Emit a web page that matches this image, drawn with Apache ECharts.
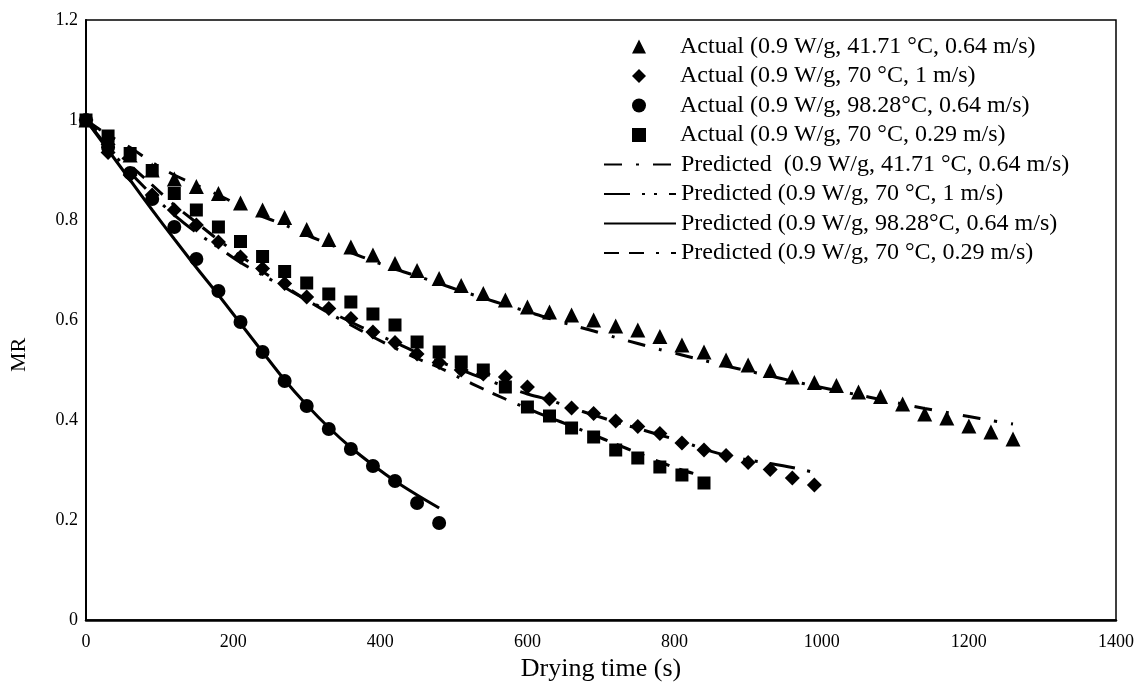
<!DOCTYPE html>
<html>
<head>
<meta charset="utf-8">
<script src="https://cdn.jsdelivr.net/npm/echarts@6/dist/echarts.min.js"></script>
<style>
  html, body { margin: 0; padding: 0; background: #ffffff; }
  #chart { width: 1148px; height: 690px; }
</style>
</head>
<body>
<div id="chart"></div>
<script>
// Drying times (s) for each run
const timeT41 = [0, 30, 60, 90, 120, 150, 180, 210, 240, 270, 300, 330, 360, 390, 420, 450, 480, 510, 540, 570, 600, 630, 660, 690, 720, 750, 780, 810, 840, 870, 900, 930, 960, 990, 1020, 1050, 1080, 1110, 1140, 1170, 1200, 1230, 1260];
const timeT70v1 = [0, 30, 60, 90, 120, 150, 180, 210, 240, 270, 300, 330, 360, 390, 420, 450, 480, 510, 540, 570, 600, 630, 660, 690, 720, 750, 780, 810, 840, 870, 900, 930, 960, 990];
const timeT98 = [0, 30, 60, 90, 120, 150, 180, 210, 240, 270, 300, 330, 360, 390, 420, 450, 480];
const timeT70v029 = [0, 30, 60, 90, 120, 150, 180, 210, 240, 270, 300, 330, 360, 390, 420, 450, 480, 510, 540, 570, 600, 630, 660, 690, 720, 750, 780, 810, 840];

// Measured moisture ratio
const actualT41 = [1.0, 0.965, 0.93, 0.90, 0.882, 0.867, 0.853, 0.834, 0.82, 0.805, 0.781, 0.761, 0.746, 0.73, 0.713, 0.699, 0.683, 0.669, 0.653, 0.64, 0.626, 0.616, 0.61, 0.60, 0.588, 0.58, 0.567, 0.55, 0.536, 0.52, 0.51, 0.499, 0.486, 0.475, 0.469, 0.456, 0.447, 0.432, 0.412, 0.404, 0.388, 0.376, 0.362];
const actualT70v1 = [1.0, 0.935, 0.89, 0.85, 0.82, 0.79, 0.756, 0.726, 0.703, 0.673, 0.646, 0.623, 0.603, 0.576, 0.555, 0.532, 0.515, 0.50, 0.492, 0.486, 0.466, 0.442, 0.424, 0.413, 0.398, 0.387, 0.373, 0.354, 0.34, 0.329, 0.315, 0.301, 0.284, 0.27];
const actualT98 = [1.0, 0.945, 0.894, 0.842, 0.786, 0.722, 0.658, 0.596, 0.536, 0.478, 0.428, 0.382, 0.342, 0.308, 0.278, 0.234, 0.194];
const actualT70v029 = [1.0, 0.968, 0.933, 0.899, 0.853, 0.82, 0.786, 0.757, 0.727, 0.697, 0.674, 0.652, 0.636, 0.612, 0.59, 0.556, 0.536, 0.516, 0.50, 0.466, 0.426, 0.408, 0.384, 0.366, 0.34, 0.324, 0.306, 0.29, 0.274];

// Model-predicted moisture ratio
const predT41 = [1.0, 0.97, 0.945, 0.915, 0.89, 0.87, 0.85, 0.828, 0.807, 0.79, 0.77, 0.752, 0.735, 0.718, 0.702, 0.688, 0.673, 0.658, 0.644, 0.63, 0.617, 0.603, 0.59, 0.578, 0.565, 0.553, 0.541, 0.53, 0.519, 0.508, 0.498, 0.488, 0.478, 0.468, 0.459, 0.45, 0.441, 0.432, 0.423, 0.415, 0.407, 0.399, 0.392];
const predT70v1 = [1.0, 0.945, 0.895, 0.85, 0.81, 0.775, 0.745, 0.715, 0.69, 0.665, 0.64, 0.618, 0.596, 0.575, 0.555, 0.535, 0.517, 0.50, 0.483, 0.467, 0.452, 0.44, 0.424, 0.41, 0.396, 0.383, 0.37, 0.357, 0.342, 0.329, 0.32, 0.313, 0.305, 0.295];
const predT98 = [1.0, 0.94, 0.88, 0.82, 0.762, 0.705, 0.65, 0.593, 0.536, 0.48, 0.43, 0.385, 0.345, 0.31, 0.278, 0.25, 0.224];
const predT70v029 = [1.0, 0.955, 0.91, 0.87, 0.83, 0.795, 0.76, 0.728, 0.697, 0.668, 0.64, 0.614, 0.59, 0.566, 0.544, 0.523, 0.505, 0.483, 0.462, 0.442, 0.423, 0.405, 0.388, 0.37, 0.352, 0.334, 0.316, 0.30, 0.287];

// Series names
const actualNames = [
  'Actual (0.9 W/g, 41.71 °C, 0.64 m/s)',
  'Actual (0.9 W/g, 70 °C, 1 m/s)',
  'Actual (0.9 W/g, 98.28°C, 0.64 m/s)',
  'Actual (0.9 W/g, 70 °C, 0.29 m/s)'
];
const predNames = [
  'Predicted  (0.9 W/g, 41.71 °C, 0.64 m/s)',
  'Predicted (0.9 W/g, 70 °C, 1 m/s)',
  'Predicted (0.9 W/g, 98.28°C, 0.64 m/s)',
  'Predicted (0.9 W/g, 70 °C, 0.29 m/s)'
];

const FONT = 'Liberation Serif, Times New Roman, serif';
const zip = (xs, ys) => xs.map((x, i) => [x, ys[i]]);

const times = [timeT41, timeT70v1, timeT98, timeT70v029];
const actual = [actualT41, actualT70v1, actualT98, actualT70v029];
const predicted = [predT41, predT70v1, predT98, predT70v029];
const markers = [
  { symbol: 'triangle', size: 15 },
  { symbol: 'diamond', size: 15 },
  { symbol: 'circle', size: 14 },
  { symbol: 'rect', size: 13 }
];
const dashes = [
  [18, 14, 3, 14],
  [26, 12, 3, 9, 3, 12],
  'solid',
  [15, 10, 15, 12, 3, 12]
];

const series = [];
actual.forEach((vals, i) => {
  series.push({
    name: actualNames[i],
    type: 'scatter',
    symbol: markers[i].symbol,
    symbolSize: markers[i].size,
    itemStyle: { color: '#000', opacity: 1 },
    data: zip(times[i], vals),
    z: 2
  });
});
predicted.forEach((vals, i) => {
  series.push({
    name: predNames[i],
    type: 'line',
    symbol: 'none',
    showSymbol: false,
    smooth: 0.3,
    itemStyle: { color: '#000' },
    lineStyle: { color: '#000', width: 3, type: dashes[i] },
    data: zip(times[i], vals),
    z: 3
  });
});

const ROW = 29.5;
const LEGEND_FONT = 24;
const LEGEND_TOP = 29.5;
const legendText = { fontFamily: FONT, fontSize: LEGEND_FONT, color: '#000' };

const chart = echarts.init(document.getElementById('chart'), null, { renderer: 'canvas' });
chart.setOption({
  animation: false,
  backgroundColor: '#fff',
  textStyle: { fontFamily: FONT, color: '#000' },
  grid: {
    left: 83, right: 32, top: 20, bottom: 70,
    show: true, borderColor: '#000', borderWidth: 1.5, backgroundColor: 'transparent'
  },
  legend: [
    {
      // marker entries
      orient: 'vertical',
      left: 627,
      top: LEGEND_TOP,
      padding: 5,
      itemWidth: 14,
      itemHeight: 14,
      itemGap: ROW - LEGEND_FONT,
      selectedMode: false,
      textStyle: Object.assign({ padding: [0, 0, 0, 29] }, legendText),
      data: actualNames
    },
    {
      // model curve entries
      orient: 'vertical',
      left: 598,
      top: LEGEND_TOP + ROW * 4,
      padding: 5,
      itemWidth: 72,
      itemHeight: 14,
      itemGap: ROW - LEGEND_FONT,
      selectedMode: false,
      textStyle: legendText,
      data: predNames.map(n => ({ name: n, itemStyle: { opacity: 0 } }))
    }
  ],
  xAxis: {
    type: 'value',
    min: 0, max: 1400, interval: 200,
    name: 'Drying time (s)',
    nameLocation: 'middle',
    nameGap: 33,
    nameTextStyle: { fontFamily: FONT, fontSize: 26, color: '#000' },
    axisLine: { show: true, onZero: false, lineStyle: { color: '#000', width: 2.5 } },
    axisTick: { show: false },
    splitLine: { show: false },
    axisLabel: { fontFamily: FONT, fontSize: 18, color: '#000', margin: 13, formatter: v => String(v) }
  },
  yAxis: {
    type: 'value',
    min: 0, max: 1.2, interval: 0.2,
    name: 'MR',
    nameLocation: 'middle',
    nameGap: 56,
    nameRotate: 90,
    nameTextStyle: { fontFamily: FONT, fontSize: 22, color: '#000', padding: [0, 70, 0, 0] },
    axisLine: { show: true, onZero: false, lineStyle: { color: '#000', width: 2 } },
    axisTick: { show: false },
    splitLine: { show: false },
    axisLabel: { fontFamily: FONT, fontSize: 18, color: '#000', margin: 8, formatter: v => String(v) }
  },
  series: series
});
</script>
</body>
</html>
